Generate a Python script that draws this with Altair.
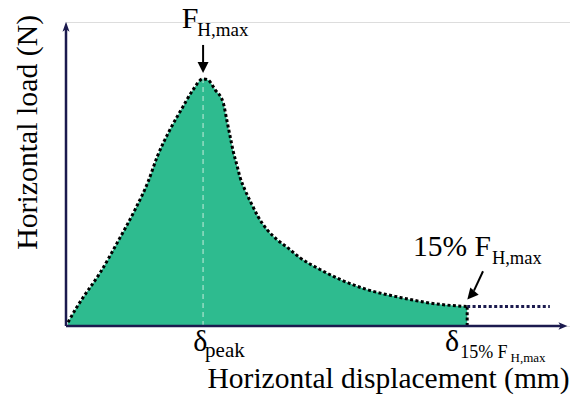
import altair as alt
import pandas as pd

# curve (arbitrary units: x 0-100 displacement, y 0-100 load)
disp = [0.4, 2.0, 3.4, 6.8, 10.3, 13.7, 16.3, 18.1, 20.6, 23.2, 25.2, 27.2, 28.1, 29.6, 31.2,
        31.9, 32.5, 33.2, 33.9, 34.5, 35.5, 36.9, 38.1, 39.9, 41.9, 44.1, 46.4, 50.4, 54.4,
        59.7, 66.3, 72.8, 79.6]
load = [1.2, 5.8, 9.4, 17.6, 27.8, 38.3, 47.5, 55.7, 64.5, 72.1, 77.7, 81.3, 81.0, 77.7, 73.4,
        67.8, 62.9, 57.3, 53.0, 49.1, 44.8, 39.9, 36.0, 31.7, 28.4, 25.6, 22.5, 18.6, 15.3,
        12.0, 9.4, 7.4, 6.4]

peak_i = load.index(max(load))
x_peak, y_peak = disp[peak_i], load[peak_i]
x_end, y_end = disp[-1], load[-1]
tail_end = 96.0

# labels (left aligned)
lab_text = ["F", "H,max", "15% F", "H,max", "δ", "peak", "δ", "15% F", "H,max"]
lab_x = [22.96, 26.05, 68.85, 84.5, 25.26, 27.6, 75.2, 78.2, 88.2]
lab_y = [97.9, 95.4, 22.9, 20.5, -8.2, -10.3, -8.2, -10.4, -11.8]
lab_size = [30, 19, 29.5, 18.5, 30, 21, 30, 18, 13]

x_title = "Horizontal displacement (mm)"
y_title = "Horizontal load (N)"

NAVY = "#1b1a4e"
GREEN = "#2ebb8f"
FONT = "Liberation Serif"

sx = alt.Scale(domain=[0, 100], nice=False, zero=False)
sy = alt.Scale(domain=[0, 100], nice=False, zero=False)
X = alt.X("x:Q", scale=sx, axis=None)
Y = alt.Y("y:Q", scale=sy, axis=None)

curve = pd.DataFrame({"x": disp, "y": load})

area = alt.Chart(curve).mark_area(color=GREEN, opacity=1, interpolate="monotone").encode(x=X, y=Y)

peak_line = alt.Chart(pd.DataFrame({"x": [x_peak], "y": [0], "y2": [y_peak]})).mark_rule(
    color="#93dcc2", strokeDash=[5, 4], strokeWidth=1.5).encode(x=X, y=Y, y2="y2:Q")

outline = alt.Chart(curve).mark_line(color="black", strokeDash=[3, 2.4], strokeWidth=3,
                                     interpolate="monotone").encode(x=X, y=Y)

end_edge = alt.Chart(pd.DataFrame({"x": [x_end], "y": [0], "y2": [y_end]})).mark_rule(
    color="black", strokeDash=[3, 2.4], strokeWidth=3).encode(x=X, y=Y, y2="y2:Q")

tail = alt.Chart(pd.DataFrame({"x": [x_end], "x2": [tail_end], "y": [y_end]})).mark_rule(
    color=NAVY, strokeDash=[3, 2.4], strokeWidth=3).encode(x=X, x2="x2:Q", y=Y)

y_axis = alt.Chart(pd.DataFrame({"x": [0], "y": [0], "y2": [98.0]})).mark_rule(
    color=NAVY, strokeWidth=2.5).encode(x=X, y=Y, y2="y2:Q")
x_axis = alt.Chart(pd.DataFrame({"x": [0], "x2": [98.6], "y": [0]})).mark_rule(
    color=NAVY, strokeWidth=2.5).encode(x=X, x2="x2:Q", y=Y)

up_head = alt.Chart(pd.DataFrame({"x": [0], "y": [98.4]})).mark_point(
    shape="M0,-1L0.7,1L0,0.5L-0.7,1Z", size=100, filled=True, color=NAVY, opacity=1).encode(x=X, y=Y)
right_head = alt.Chart(pd.DataFrame({"x": [98.6], "y": [0]})).mark_point(
    shape="M1,0L-1,0.85L-0.5,0L-1,-0.85Z", size=81, filled=True, color=NAVY, opacity=1).encode(x=X, y=Y)

# annotation arrows
shafts = alt.Chart(pd.DataFrame({"x": [x_peak, 82.74], "x2": [x_peak, 80.95],
                                 "y": [92.45, 18.0], "y2": [86.2, 11.66]})).mark_rule(
    color="black", strokeWidth=2).encode(x=X, x2="x2:Q", y=Y, y2="y2:Q")
head1 = alt.Chart(pd.DataFrame({"x": [x_peak], "y": [85.0]})).mark_point(
    shape="M-1,-1L1,-1L0,1Z", size=121, filled=True, color="black", opacity=1).encode(x=X, y=Y)
head2 = alt.Chart(pd.DataFrame({"x": [80.34], "y": [10.08]})).mark_point(
    shape="M-1,-1L1,-1L0,1Z", size=121, angle=40.6, filled=True, color="black", opacity=1).encode(x=X, y=Y)

labels = alt.Chart(pd.DataFrame({"x": lab_x, "y": lab_y, "t": lab_text, "s": lab_size})).mark_text(
    align="left", baseline="alphabetic", font=FONT, color="black").encode(
    x=X, y=Y, text="t:N", size=alt.Size("s:Q", scale=None, legend=None))

xt = alt.Chart(pd.DataFrame({"x": [64.0], "y": [-20.3], "t": [x_title]})).mark_text(
    align="center", baseline="alphabetic", font=FONT, fontSize=29.5, color="black").encode(x=X, y=Y, text="t:N")
yt = alt.Chart(pd.DataFrame({"x": [-5.75], "y": [63.7], "t": [y_title]})).mark_text(
    align="center", baseline="alphabetic", font=FONT, fontSize=29.8, angle=270, color="black").encode(x=X, y=Y, text="t:N")

chart = alt.layer(area, peak_line, outline, end_edge, tail, x_axis, y_axis, up_head, right_head,
                  shafts, head1, head2, labels, xt, yt).properties(
    width=504, height=304,
    autosize=alt.AutoSizeParams(type="none"),
    padding={"left": 58, "top": 14, "right": 0, "bottom": 69},
).configure_view(stroke=None).configure(background="white")

chart.save("out.html", embed_options={"renderer": "svg", "actions": False})
